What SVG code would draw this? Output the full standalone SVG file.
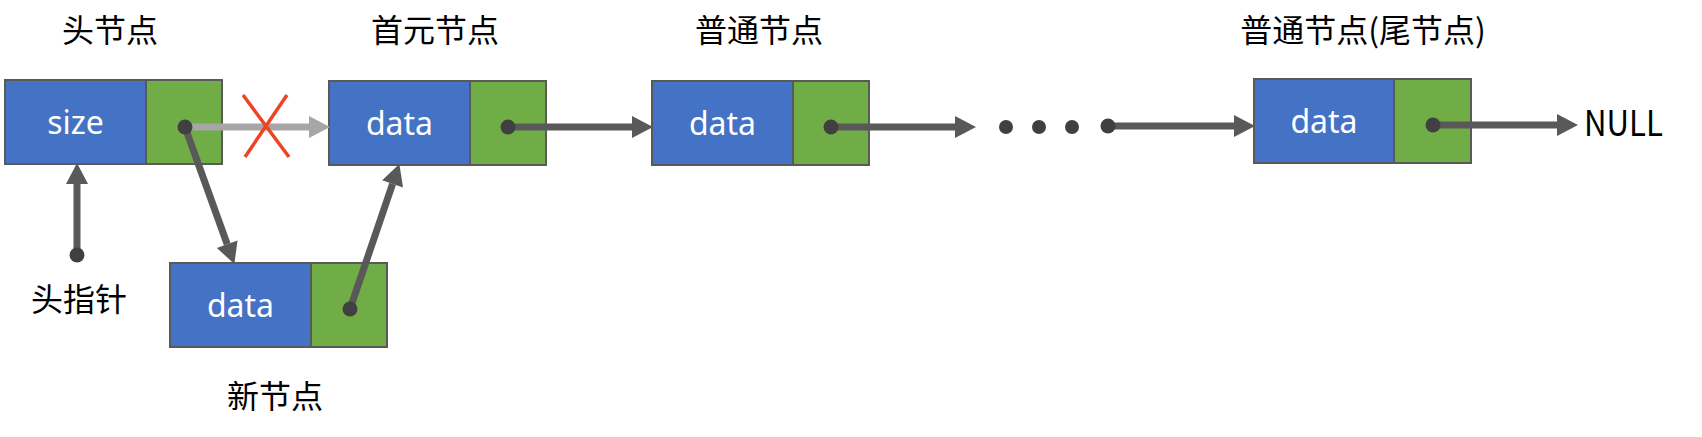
<svg xmlns="http://www.w3.org/2000/svg" width="1702" height="437" viewBox="0 0 1702 437">
<style>
.blue{fill:#4472C4;stroke:#595959;stroke-width:2}
.green{fill:#70AD47;stroke:#595959;stroke-width:2}
.lbl{font-family:"Noto Sans CJK SC","Noto Sans",sans-serif;font-size:32px;fill:#000;text-anchor:middle}
.val{font-family:"Noto Sans","Noto Sans CJK SC",sans-serif;font-size:32px;fill:#fff;text-anchor:middle}
.arr{stroke:#595959;stroke-width:7;fill:none;marker-end:url(#ah);marker-start:url(#dot)}
.arrg{stroke:#A6A6A6;stroke-width:7;fill:none;marker-end:url(#ahg)}
.pt{fill:#404040}
</style>
<defs>
<marker id="ah" markerUnits="userSpaceOnUse" markerWidth="22" markerHeight="24" refX="0" refY="11" orient="auto" viewBox="0 0 22 24" overflow="visible"><path d="M0,0 L21,11 L0,22 Z" fill="#595959"/></marker>
<marker id="ahg" markerUnits="userSpaceOnUse" markerWidth="22" markerHeight="24" refX="0" refY="11" orient="auto" viewBox="0 0 22 24" overflow="visible"><path d="M0,0 L21,11 L0,22 Z" fill="#A6A6A6"/></marker>
<marker id="dot" markerUnits="userSpaceOnUse" markerWidth="16" markerHeight="16" refX="8" refY="8" orient="0" viewBox="0 0 16 16" overflow="visible"><circle cx="8" cy="8" r="7.5" fill="#404040"/></marker>
</defs>
<rect width="1702" height="437" fill="#fff"/>

<g id="head-node">
<rect class="blue" x="5" y="80" width="141" height="84"/>
<rect class="green" x="146" y="80" width="76" height="84"/>
<text class="val" x="75.5" y="134">size</text>
<text class="lbl" x="110" y="42">头节点</text>
</g>
<g id="first-node">
<rect class="blue" x="329" y="81" width="141" height="84"/>
<rect class="green" x="470" y="81" width="76" height="84"/>
<text class="val" x="399.5" y="135">data</text>
<text class="lbl" x="435" y="42">首元节点</text>
</g>
<g id="normal-node">
<rect class="blue" x="652" y="81" width="141" height="84"/>
<rect class="green" x="793" y="81" width="76" height="84"/>
<text class="val" x="722.5" y="135">data</text>
<text class="lbl" x="759" y="42">普通节点</text>
</g>
<g id="tail-node">
<rect class="blue" x="1254" y="79" width="140" height="84"/>
<rect class="green" x="1394" y="79" width="77" height="84"/>
<text class="val" x="1324" y="133">data</text>
<text class="lbl" x="1363" y="42">普通节点(尾节点)</text>
</g>
<g id="new-node">
<rect class="blue" x="170" y="263" width="141" height="84"/>
<rect class="green" x="311" y="263" width="76" height="84"/>
<text class="val" x="240.5" y="317">data</text>
<text class="lbl" x="275" y="408">新节点</text>
</g>
<g id="head-pointer">
<text class="lbl" x="79" y="311">头指针</text>
</g>
<g id="null-node">
<text x="1584" y="136" font-family="'Noto Sans CJK SC','Noto Sans',sans-serif" font-size="35" textLength="79" lengthAdjust="spacingAndGlyphs" fill="#000">NULL</text>
</g>

<g id="connectors">
<line class="arrg" x1="185" y1="127" x2="309" y2="127"/>
<g id="cross" stroke="#EE4423" stroke-width="3.5">
<line x1="243" y1="95" x2="289" y2="157"/>
<line x1="287" y1="95" x2="245" y2="157"/>
</g>
<line class="arr" x1="185" y1="127" x2="227.2" y2="244.2"/>
<line class="arr" x1="350" y1="309" x2="392.6" y2="183.9"/>
<line class="arr" x1="77" y1="255" x2="77" y2="184"/>
<line class="arr" x1="508" y1="127" x2="632" y2="127"/>
<line class="arr" x1="831" y1="127" x2="955" y2="127"/>
<circle class="pt" cx="1006" cy="127" r="7"/>
<circle class="pt" cx="1039" cy="127" r="7"/>
<circle class="pt" cx="1072" cy="127" r="7"/>
<line class="arr" x1="1108" y1="126" x2="1234" y2="126"/>
<line class="arr" x1="1433" y1="125" x2="1557" y2="125"/>
</g>
</svg>
